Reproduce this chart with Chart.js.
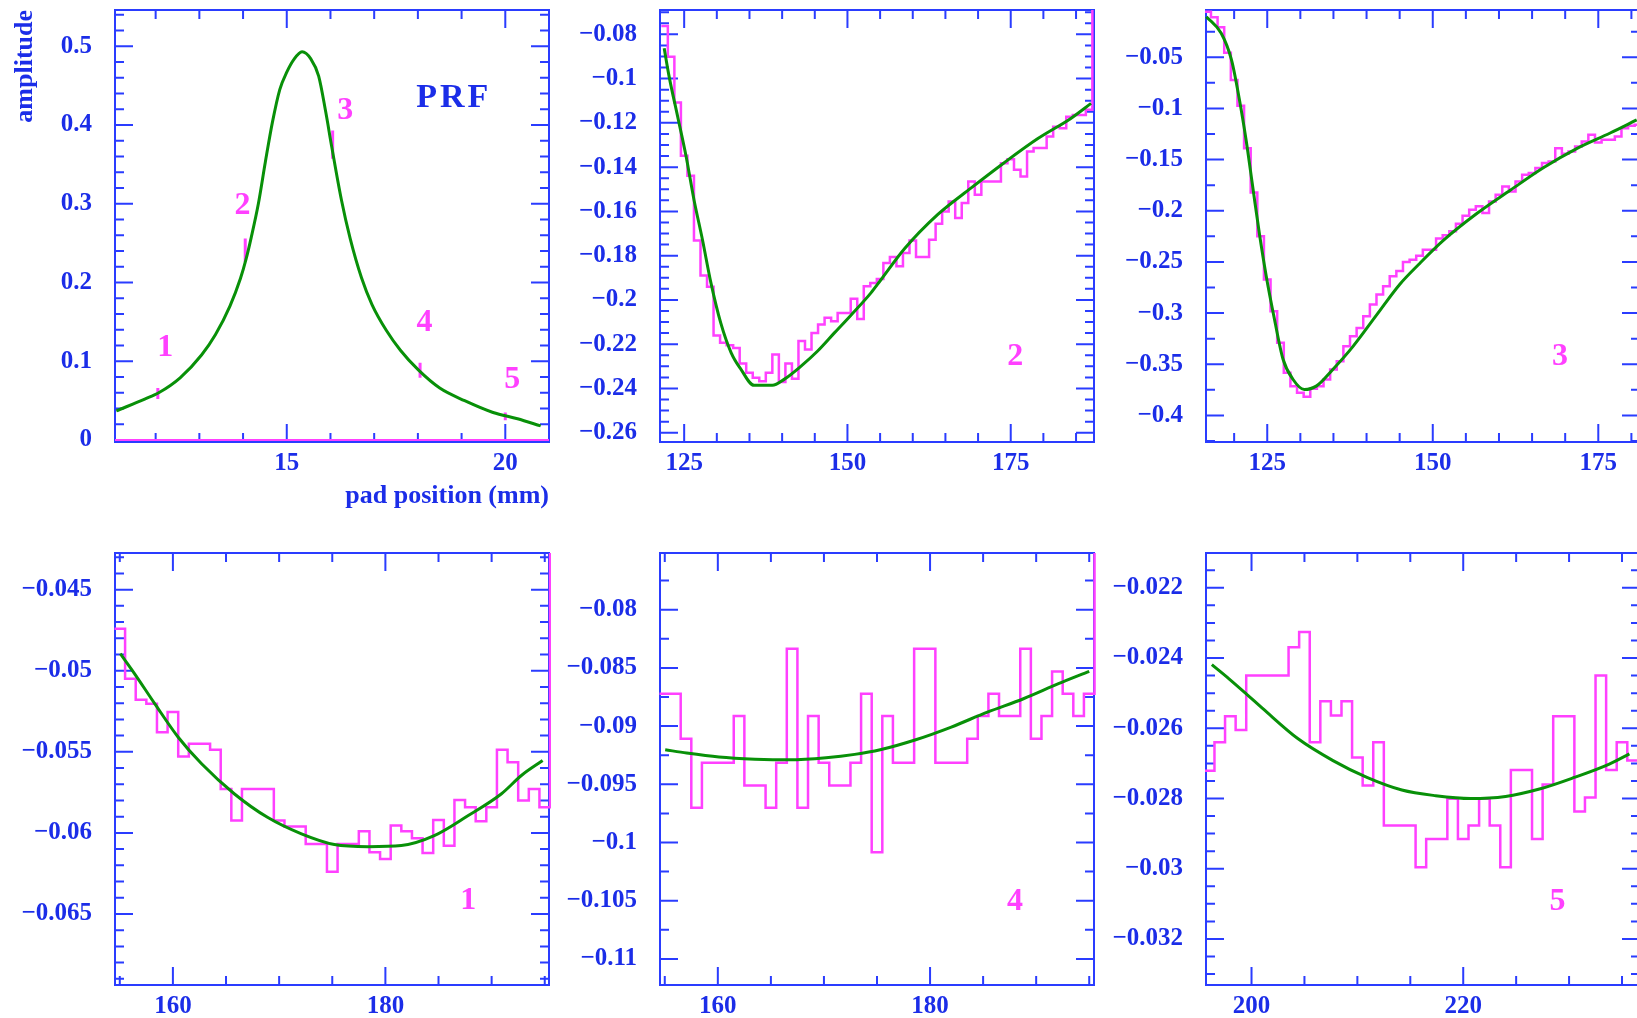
<!DOCTYPE html>
<html>
<head>
<meta charset="utf-8">
<script src="https://cdn.jsdelivr.net/npm/chart.js@4.4.0/dist/chart.umd.min.js"></script>
<style>
  html, body { margin: 0; padding: 0; background: #fff; width: 1637px; height: 1018px; overflow: hidden; }
  canvas { position: absolute; }
</style>
</head>
<body>
<canvas id="c1" width="557" height="517" style="left:0px;top:0px"></canvas>
<canvas id="c2" width="557" height="517" style="left:545px;top:0px"></canvas>
<canvas id="c3" width="557" height="517" style="left:1091px;top:0px"></canvas>
<canvas id="c4" width="557" height="517" style="left:0px;top:543px"></canvas>
<canvas id="c5" width="557" height="517" style="left:545px;top:543px"></canvas>
<canvas id="c6" width="557" height="517" style="left:1091px;top:543px"></canvas>
<script>
const BLUE = '#2a3cff';
const TEXT_BLUE = '#1b2de8';
const MAGENTA = '#ff40ff';
const GREEN = '#089008';
const FONT = "'Liberation Serif', 'DejaVu Serif', serif";

// --- PRF panel: fitted pad response function and the five pad amplitudes
const prfCurveX = [11.10, 11.75, 12.07, 12.56, 13.05, 13.37, 13.70, 13.94, 14.07, 14.19, 14.35, 14.51, 14.67, 14.84, 15.00, 15.16, 15.35,
                   15.55, 15.73, 15.89, 16.03, 16.25, 16.45, 16.71, 16.95, 17.28, 17.60, 18.01, 18.50, 19.07, 19.72, 20.28, 20.81];
const prfCurveY = [0.037, 0.052, 0.060, 0.079, 0.108, 0.134, 0.170, 0.205, 0.230, 0.258, 0.300, 0.353, 0.403, 0.445, 0.467, 0.483, 0.493,
                   0.484, 0.462, 0.417, 0.372, 0.305, 0.256, 0.206, 0.172, 0.139, 0.114, 0.089, 0.066, 0.050, 0.035, 0.027, 0.018];
const prfPadX = [12.05, 14.05, 16.05, 18.05, 20.0];
const prfPadAmp = [0.059, 0.241, 0.375, 0.0885, 0.030];
const prfPadErr = [0.007, 0.015, 0.018, 0.0095, 0.005];
const prfBaseX = [11.07, 21.0];
const prfBaseY = [0, 0];

// --- pad 2 signal (one bin per time unit, first bin centre pad2First)
const pad2First = 122;
const pad2Values = [-0.0762, -0.0901, -0.1108, -0.1349, -0.1439, -0.1731, -0.1890, -0.1941, -0.2161, -0.2194,
  -0.2205, -0.2217, -0.2287, -0.2329, -0.2352, -0.2367, -0.2329, -0.2247, -0.2371, -0.2287,
  -0.2356, -0.2186, -0.2224, -0.2149, -0.2111, -0.2081, -0.2096, -0.2059, -0.2059, -0.1995,
  -0.2086, -0.1938, -0.1923, -0.1905, -0.1833, -0.1806, -0.1848, -0.1788, -0.1731, -0.1806,
  -0.1806, -0.1728, -0.1656, -0.1600, -0.1555, -0.1630, -0.1562, -0.1465, -0.1525, -0.1465,
  -0.1465, -0.1465, -0.1382, -0.1364, -0.1412, -0.1442, -0.1329, -0.1314, -0.1314, -0.1262,
  -0.1217, -0.1224, -0.1172, -0.1164, -0.1164, -0.1141, 0];
const pad2FitX = [121.94, 122.7, 124.0, 125.3, 126.5, 127.8, 129.1, 130.6, 132.2, 133.7, 135.7, 138.5, 140.3, 142.9,
                  145.4, 148.0, 150.5, 153.6, 155.1, 158.7, 163.8, 168.9, 174.0, 179.1, 184.2, 187.3];
const pad2FitY = [-0.0863, -0.0991, -0.1171, -0.1352, -0.1547, -0.1728, -0.1923, -0.2104, -0.2239, -0.2314, -0.2386, -0.2386,
                  -0.2359, -0.2299, -0.2232, -0.2149, -0.2070, -0.1968, -0.1910, -0.1770, -0.1615, -0.1495, -0.1380, -0.1272, -0.1180, -0.1112];

// --- pad 3 signal
const pad3First = 116;
const pad3Values = [-0.0054, -0.0110, -0.0207, -0.0455, -0.0721, -0.0975, -0.1388, -0.1821, -0.2250, -0.2673,
  -0.2982, -0.3291, -0.3584, -0.3714, -0.3779, -0.3818, -0.3740, -0.3714, -0.3649, -0.3551,
  -0.3470, -0.3324, -0.3226, -0.3145, -0.3031, -0.2917, -0.2819, -0.2738, -0.2640, -0.2590,
  -0.2500, -0.2480, -0.2440, -0.2380, -0.2380, -0.2270, -0.2240, -0.2200, -0.2127, -0.2049,
  -0.1990, -0.1957, -0.2022, -0.1909, -0.1844, -0.1762, -0.1811, -0.1713, -0.1648, -0.1632,
  -0.1583, -0.1534, -0.1518, -0.1388, -0.1443, -0.1421, -0.1372, -0.1323, -0.1258, -0.1333,
  -0.1307, -0.1307, -0.1274, -0.1193, -0.1170, -0.1160];
const pad3FitX = [115.8, 118.05, 119.6, 120.8, 121.8, 122.8, 123.8, 124.85, 126.1, 127.4, 128.9, 130.6, 132.4, 134.9,
                  137.9, 141.5, 145.0, 148.1, 151.6, 156.6, 161.7, 166.7, 171.8, 176.8, 180.8];
const pad3FitY = [-0.0103, -0.0266, -0.0526, -0.0916, -0.1307, -0.1762, -0.2218, -0.2640, -0.3063, -0.3454, -0.3649, -0.3747,
                  -0.3714, -0.3551, -0.3330, -0.3020, -0.2720, -0.2510, -0.2290, -0.2030, -0.1800, -0.1580, -0.1390, -0.1240, -0.1112];

// --- pad 1 signal
const pad1First = 154;
const pad1Values = [-0.0505, -0.04741, -0.0505, -0.05179, -0.05204, -0.05379, -0.05255, -0.05529, -0.05451, -0.05451,
  -0.05488, -0.05729, -0.05924, -0.05729, -0.05729, -0.05729, -0.05924, -0.05961, -0.05961, -0.06068,
  -0.06068, -0.06239, -0.06068, -0.06068, -0.0599, -0.0612, -0.06161, -0.05955, -0.0599, -0.06033,
  -0.06124, -0.0592, -0.06079, -0.05797, -0.05842, -0.05928, -0.05842, -0.05488, -0.05564, -0.05801,
  -0.05729, -0.05842, 0];
const pad1FitX = [155.05, 156.4, 158.3, 160.5, 162.7, 165.8, 168.9, 172.1, 175.2, 178.4, 181.5, 184.6, 187.8, 190.9, 192.8, 194.8];
const pad1FitY = [-0.04895, -0.05019, -0.05204, -0.0541, -0.05574, -0.0576, -0.05904, -0.06006, -0.06072, -0.06085,
                  -0.06078, -0.06017, -0.05893, -0.0576, -0.05646, -0.05554];

// --- pad 4 signal
const pad4First = 155;
const pad4Values = [-0.08722, -0.08722, -0.09109, -0.09702, -0.09315, -0.09315, -0.09315, -0.08914, -0.0951, -0.0951,
  -0.09702, -0.09315, -0.08335, -0.09702, -0.08914, -0.09315, -0.0951, -0.0951, -0.09315, -0.08722,
  -0.10083, -0.08914, -0.09315, -0.09315, -0.08335, -0.08335, -0.09315, -0.09315, -0.09315, -0.09109,
  -0.08914, -0.08722, -0.08914, -0.08914, -0.08335, -0.09109, -0.08914, -0.0853, -0.08722, -0.08914,
  -0.08722, 0];
const pad4FitX = [155.04, 157.07, 160.1, 163.5, 166.8, 170.2, 172.9, 175.3, 178.65, 182.0, 185.4, 188.8, 192.1, 195.0];
const pad4FitY = [-0.09203, -0.09232, -0.09266, -0.09284, -0.0929, -0.09272, -0.09243, -0.09203, -0.09117, -0.09008,
                  -0.0888, -0.08765, -0.08636, -0.0853];

// --- pad 5 signal
const pad5First = 196;
const pad5Values = [-0.02721, -0.0264, -0.02566, -0.02605, -0.0245, -0.0245, -0.0245, -0.0245, -0.02369, -0.02326,
  -0.0264, -0.02523, -0.02564, -0.02523, -0.02683, -0.02763, -0.0264, -0.02877, -0.02877, -0.02877,
  -0.02996, -0.02915, -0.02915, -0.02801, -0.02915, -0.02877, -0.02801, -0.02877, -0.02996, -0.02719,
  -0.02719, -0.02915, -0.0276, -0.02566, -0.02566, -0.02837, -0.02797, -0.0245, -0.02719, -0.0264,
  -0.02692];
const pad5FitX = [196.25, 197.9, 199.5, 201.1, 204.4, 207.7, 210.9, 214.2, 217.4, 220.7, 224.0, 227.2, 230.5, 233.8, 235.7];
const pad5FitY = [-0.02419, -0.0246, -0.02502, -0.02545, -0.0263, -0.02692, -0.0274, -0.02776, -0.02792, -0.028,
                  -0.02794, -0.02773, -0.0274, -0.02702, -0.02673];

function histPoints(first, values) {
  const pts = values.map((v, i) => ({ x: first + i - 0.5, y: v }));
  pts.push({ x: first + values.length - 0.5, y: values[values.length - 1] });
  return pts;
}
function curvePoints(xs, ys) {
  return xs.map((x, i) => ({ x, y: ys[i] }));
}
function fmt(v) {
  return String(parseFloat(Number(v).toPrecision(6))).replace('-', '\u2212');
}
function tickValues(scale, minor) {
  const major = scale.options.ticks.stepSize;
  const out = [];
  for (let k = Math.ceil(scale.min / minor - 1e-6); k * minor <= scale.max + 1e-9; k++) {
    const v = k * minor;
    const r = v / major;
    out.push({ v, major: Math.abs(r - Math.round(r)) < 1e-6 });
  }
  return out;
}

// frame box with inward ticks on all four sides
const frameTicks = {
  id: 'frameTicks',
  beforeDatasetsDraw(chart, args, opts) {
    const { ctx, chartArea: a, scales: { x, y } } = chart;
    ctx.save();
    ctx.strokeStyle = BLUE;
    ctx.lineWidth = 2;
    ctx.strokeRect(a.left, a.top, a.right - a.left, a.bottom - a.top);
    ctx.beginPath();
    tickValues(x, opts.xMinor).forEach(t => {
      const p = x.getPixelForValue(t.v), len = t.major ? 18 : 9;
      ctx.moveTo(p, a.bottom); ctx.lineTo(p, a.bottom - len);
      ctx.moveTo(p, a.top); ctx.lineTo(p, a.top + len);
    });
    tickValues(y, opts.yMinor).forEach(t => {
      const p = y.getPixelForValue(t.v), len = t.major ? 18 : 9;
      ctx.moveTo(a.left, p); ctx.lineTo(a.left + len, p);
      ctx.moveTo(a.right, p); ctx.lineTo(a.right - len, p);
    });
    ctx.stroke();
    ctx.restore();
  }
};

// text placed at data coordinates
const panelText = {
  id: 'panelText',
  afterDatasetsDraw(chart, args, opts) {
    const { ctx, scales: { x, y } } = chart;
    ctx.save();
    ctx.textAlign = 'center';
    ctx.textBaseline = 'middle';
    (opts.items || []).forEach(it => {
      ctx.fillStyle = it.color;
      ctx.font = it.font;
      ctx.letterSpacing = it.spacing || '0px';
      ctx.fillText(it.text, x.getPixelForValue(it.x), y.getPixelForValue(it.y));
    });
    ctx.restore();
  }
};

const tickFont = { family: FONT, size: 25, weight: 'bold' };
const numFont = "bold 32px " + FONT;

function zeroPad(s) {
  s.paddingLeft = 0; s.paddingRight = 0; s.paddingTop = 0; s.paddingBottom = 0;
}

function makePanel(id, cfg) {
  return new Chart(document.getElementById(id), {
    type: 'line',
    data: { datasets: cfg.datasets },
    options: {
      responsive: false,
      animation: false,
      events: [],
      layout: { padding: { left: 0, right: 8, top: 10, bottom: 0 }, autoPadding: false },
      plugins: {
        legend: { display: false },
        tooltip: { enabled: false },
        frameTicks: { xMinor: cfg.xMinor, yMinor: cfg.yMinor },
        panelText: { items: cfg.texts }
      },
      scales: {
        x: {
          type: 'linear', min: cfg.xMin, max: cfg.xMax,
          grid: { display: false, drawTicks: false },
          border: { display: false },
          ticks: { stepSize: cfg.xStep, includeBounds: false, autoSkip: false, maxRotation: 0,
                   padding: 7, color: TEXT_BLUE, font: tickFont, callback: fmt },
          title: cfg.xTitle || { display: false },
          afterFit: s => { s.height = 75; zeroPad(s); }
        },
        y: {
          type: 'linear', min: cfg.yMin, max: cfg.yMax,
          grid: { display: false, drawTicks: false },
          border: { display: false },
          ticks: { stepSize: cfg.yStep, includeBounds: false, autoSkip: false,
                   padding: 23, color: TEXT_BLUE, font: tickFont, callback: fmt },
          title: cfg.yTitle || { display: false },
          afterFit: s => { s.width = 115; zeroPad(s); }
        }
      }
    },
    plugins: [frameTicks, panelText]
  });
}

function fitSet(xs, ys) {
  return { data: curvePoints(xs, ys), borderColor: GREEN, borderWidth: 3, pointRadius: 0,
           cubicInterpolationMode: 'monotone', clip: 1 };
}
function histSet(first, values) {
  return { data: histPoints(first, values), borderColor: MAGENTA, borderWidth: 2.5, pointRadius: 0,
           stepped: 'before', clip: { left: 1, right: 2, top: 0, bottom: 0 } };
}

// PRF
makePanel('c1', {
  xMin: 11.07, xMax: 21.0, xStep: 5, xMinor: 1,
  yMin: -0.0025, yMax: 0.546, yStep: 0.1, yMinor: 0.02,
  xTitle: { display: true, text: 'pad position (mm)', align: 'end', color: TEXT_BLUE,
            font: { family: FONT, size: 26, weight: 'bold' }, padding: { top: 0, bottom: 5 } },
  yTitle: { display: true, text: 'amplitude', align: 'end', color: TEXT_BLUE,
            font: { family: FONT, size: 26, weight: 'bold' }, padding: { top: 10, bottom: 0 } },
  datasets: [
    fitSet(prfCurveX, prfCurveY),
    { data: prfPadX.flatMap((x, i) => [{ x, y: prfPadAmp[i] - prfPadErr[i] }, { x, y: prfPadAmp[i] + prfPadErr[i] }, { x, y: null }]),
      borderColor: MAGENTA, borderWidth: 3, pointRadius: 0, spanGaps: false },
    { data: curvePoints(prfBaseX, prfBaseY), borderColor: MAGENTA, borderWidth: 2, pointRadius: 0, clip: 1 }
  ],
  texts: [
    { x: 12.22, y: 0.117, text: '1', color: MAGENTA, font: numFont },
    { x: 13.99, y: 0.297, text: '2', color: MAGENTA, font: numFont },
    { x: 16.34, y: 0.418, text: '3', color: MAGENTA, font: numFont },
    { x: 18.15, y: 0.149, text: '4', color: MAGENTA, font: numFont },
    { x: 20.16, y: 0.076, text: '5', color: MAGENTA, font: numFont },
    { x: 18.82, y: 0.4335, text: 'PRF', color: TEXT_BLUE, font: 'bold 34px ' + FONT, spacing: '3px' }
  ]
});

makePanel('c2', {
  xMin: 121.3, xMax: 187.75, xStep: 25, xMinor: 5,
  yMin: -0.2642, yMax: -0.069, yStep: 0.02, yMinor: 0.005,
  datasets: [fitSet(pad2FitX, pad2FitY), histSet(pad2First, pad2Values)],
  texts: [{ x: 175.7, y: -0.2257, text: '2', color: MAGENTA, font: numFont }]
});

makePanel('c3', {
  xMin: 115.75, xMax: 181.3, xStep: 25, xMinor: 5,
  yMin: -0.426, yMax: -0.0038, yStep: 0.05, yMinor: 0.025,
  datasets: [fitSet(pad3FitX, pad3FitY), histSet(pad3First, pad3Values)],
  texts: [{ x: 169.2, y: -0.3428, text: '3', color: MAGENTA, font: numFont }]
});

makePanel('c4', {
  xMin: 154.55, xMax: 195.4, xStep: 20, xMinor: 5,
  yMin: -0.06938, yMax: -0.04274, yStep: 0.005, yMinor: 0.001,
  datasets: [fitSet(pad1FitX, pad1FitY), histSet(pad1First, pad1Values)],
  texts: [{ x: 187.8, y: -0.06418, text: '1', color: MAGENTA, font: numFont }]
});

makePanel('c5', {
  xMin: 154.55, xMax: 195.45, xStep: 20, xMinor: 5,
  yMin: -0.11224, yMax: -0.07513, yStep: 0.005, yMinor: 0.0025,
  datasets: [fitSet(pad4FitX, pad4FitY), histSet(pad4First, pad4Values)],
  texts: [{ x: 188.0, y: -0.10513, text: '4', color: MAGENTA, font: numFont }]
});

makePanel('c6', {
  xMin: 195.7, xMax: 236.7, xStep: 20, xMinor: 5,
  yMin: -0.03331, yMax: -0.02101, yStep: 0.002, yMinor: 0.0005,
  datasets: [fitSet(pad5FitX, pad5FitY), histSet(pad5First, pad5Values)],
  texts: [{ x: 228.9, y: -0.03093, text: '5', color: MAGENTA, font: numFont }]
});
</script>
</body>
</html>
